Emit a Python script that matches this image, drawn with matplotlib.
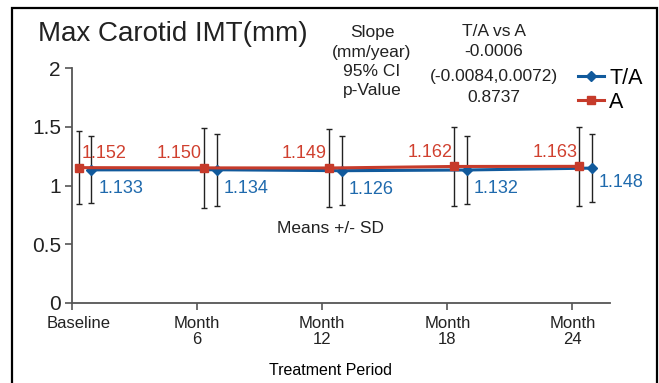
import matplotlib
matplotlib.use("Agg")
import matplotlib.pyplot as plt
from matplotlib.patches import Rectangle
from matplotlib.transforms import ScaledTranslation

plt.rcParams["font.family"] = ["Liberation Sans", "DejaVu Sans"]

# === DATA ===
months = [0, 6, 12, 18, 24]
tick_labels = ["Baseline", "Month\n6", "Month\n12", "Month\n18", "Month\n24"]
ta_mean = [1.133, 1.134, 1.126, 1.132, 1.148]
ta_sd = [0.285, 0.307, 0.295, 0.287, 0.292]
a_mean = [1.152, 1.150, 1.149, 1.162, 1.163]
a_sd = [0.31, 0.343, 0.335, 0.337, 0.335]
ta_shift = 0.93
a_shift = 0.33
slope_rows = ["Slope", "(mm/year)", "95% CI", "p-Value"]
compare_rows = ["T/A vs A", "-0.0006", "(-0.0084,0.0072)", "0.8737"]

BLUE = "#115a9c"
RED = "#c63b2b"
BLUE_TXT = "#1f6aad"
RED_TXT = "#d0402f"
GRAY = "#555555"

W, H = 659, 383
fig = plt.figure(figsize=(W / 100, H / 100), dpi=100)
ax = fig.add_axes([72 / W, 1 - 303 / H, 538 / W, 235 / H])

xa = [m + a_shift for m in months]
xt = [m + ta_shift for m in months]

ax.errorbar(xa, a_mean, yerr=a_sd, fmt="none", ecolor="#222222",
            elinewidth=1, capsize=2.5, capthick=1, zorder=2)
ax.errorbar(xt, ta_mean, yerr=ta_sd, fmt="none", ecolor="#222222",
            elinewidth=1, capsize=2.5, capthick=1, zorder=2)
l_ta, = ax.plot(xt, ta_mean, color=BLUE, lw=2.2, marker="D", ms=5,
                label="T/A", zorder=3)
l_a, = ax.plot(xa, a_mean, color=RED, lw=2.2, marker="s", ms=5.5,
               label="A", zorder=4)

# value labels
for i, (x, y) in enumerate(zip(xa, a_mean)):
    if i == 0:
        ax.annotate(f"{y:.3f}", (x, y), xytext=(3, 14), textcoords="offset pixels",
                    ha="left", va="center", color=RED_TXT, fontsize=13)
    else:
        ax.annotate(f"{y:.3f}", (x, y), xytext=(-2, 14), textcoords="offset pixels",
                    ha="right", va="center", color=RED_TXT, fontsize=13)
for i, (x, y) in enumerate(zip(xt, ta_mean)):
    dy = -14 if i == len(xt) - 1 else -19
    ax.annotate(f"{y:.3f}", (x, y), xytext=(7, dy), textcoords="offset pixels",
                ha="left", va="center", color=BLUE_TXT, fontsize=13)

ax.set_xlim(0, 25.8)
ax.set_ylim(0, 2)
ax.set_yticks([0, 0.5, 1, 1.5, 2])
ax.set_yticklabels(["0", "0.5", "1", "1.5", "2"], fontsize=15)
ax.set_xticks(months)
ax.set_xticklabels(tick_labels, fontsize=12, linespacing=1.15)
ax.set_xlabel("Treatment Period", fontsize=11.5, labelpad=6)
ax.xaxis.set_label_coords(0.48, -0.255)
for s in ["top", "right"]:
    ax.spines[s].set_visible(False)
for s in ["left", "bottom"]:
    ax.spines[s].set_color(GRAY)
    ax.spines[s].set_linewidth(1.3)
ax.tick_params(axis="both", colors=GRAY, length=5, width=1.2, labelcolor="#222222")
ax.tick_params(axis="y", pad=3)
ax.tick_params(axis="x", pad=4)

# the "Baseline" label sits a little right of its tick in the original
base_lbl = ax.xaxis.get_major_ticks()[0].label1
base_lbl.set_transform(base_lbl.get_transform() + ScaledTranslation(7 / 100, 0, fig.dpi_scale_trans))

ax.text(0.48, 0.315, "Means +/- SD", transform=ax.transAxes, ha="center",
        va="center", fontsize=12.5, color="#222222")

fig.text(38 / W, 1 - 34 / H, "Max Carotid IMT(mm)", fontsize=20, ha="left",
         va="center", color="#222222")
for row, yp in zip(slope_rows, [32, 52, 71, 90]):
    fig.text(372 / W, 1 - yp / H, row, fontsize=12.5, ha="center", va="center",
             color="#222222")
for row, yp in zip(compare_rows, [32, 52, 77, 98]):
    fig.text(494 / W, 1 - yp / H, row, fontsize=12.5, ha="center", va="center",
             color="#222222")

fig.legend(handles=[l_ta, l_a], loc="upper left", bbox_to_anchor=(578 / W, 1 - 68 / H),
           frameon=False, fontsize=15.5, handlelength=1.2, handletextpad=0.25,
           labelspacing=0.12, borderpad=0, borderaxespad=0)

fig.add_artist(Rectangle((12 / W, -0.05), 645 / W, 1.05 - 8 / H, transform=fig.transFigure,
                         fill=False, edgecolor="black", lw=1.6))

fig.savefig("out.png", dpi=100)
